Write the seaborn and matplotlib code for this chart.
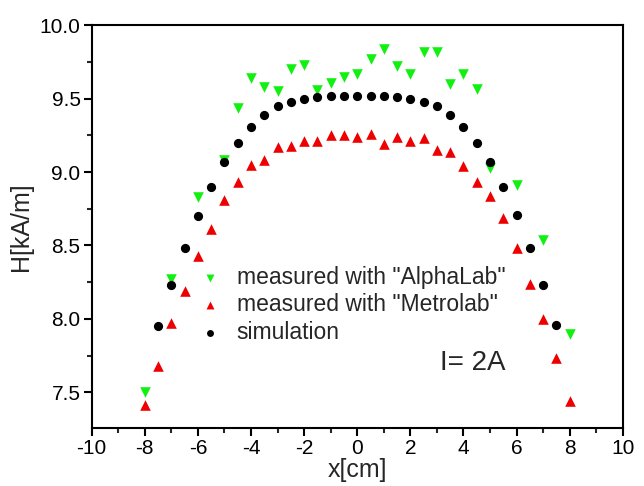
import numpy as np
import pandas as pd
import matplotlib
matplotlib.use("Agg")
import matplotlib.pyplot as plt
import seaborn as sns
from matplotlib.ticker import MultipleLocator

sns.set_theme(style="ticks")
plt.rcParams['font.family'] = ['Liberation Sans', 'DejaVu Sans']

# ---- data ----
sim_x = [-7.5, -7.0, -6.5, -6.0, -5.5, -5.0, -4.5, -4.0, -3.5, -3.0, -2.5, -2.0, -1.5, -1.0, -0.5,
         0.0, 0.5, 1.0, 1.5, 2.0, 2.5, 3.0, 3.5, 4.0, 4.5, 5.0, 5.5, 6.0, 6.5, 7.0, 7.5]
sim_y = [7.95, 8.23, 8.48, 8.70, 8.90, 9.07, 9.20, 9.31, 9.39, 9.45, 9.48, 9.50, 9.51, 9.52, 9.52,
         9.52, 9.52, 9.52, 9.51, 9.50, 9.48, 9.45, 9.39, 9.31, 9.20, 9.07, 8.90, 8.71, 8.48, 8.23, 7.96]

metro_x = [-8.0, -7.5, -7.0, -6.5, -6.0, -5.5, -5.0, -4.5, -4.0, -3.5, -3.0, -2.5, -2.0, -1.5, -1.0, -0.5,
           0.0, 0.5, 1.0, 1.5, 2.0, 2.5, 3.0, 3.5, 4.0, 4.5, 5.0, 5.5, 6.0, 6.5, 7.0, 7.5, 8.0]
metro_y = [7.41, 7.68, 7.97, 8.19, 8.43, 8.61, 8.81, 8.93, 9.05, 9.08, 9.17, 9.18, 9.21, 9.21, 9.25, 9.25,
           9.24, 9.26, 9.19, 9.24, 9.21, 9.23, 9.15, 9.14, 9.04, 8.93, 8.84, 8.69, 8.48, 8.24, 8.00, 7.73, 7.44]

alpha_x = [-8.0, -7.0, -6.0, -5.0, -4.5, -4.0, -3.5, -3.0, -2.5, -2.0, -1.5, -1.0, -0.5, 0.0,
           0.5, 1.0, 1.5, 2.0, 2.5, 3.0, 3.5, 4.0, 4.5, 5.0, 6.0, 7.0, 8.0]
alpha_y = [7.50, 8.27, 8.83, 9.08, 9.44, 9.64, 9.58, 9.55, 9.70, 9.73, 9.56, 9.61, 9.65, 9.67,
           9.77, 9.84, 9.72, 9.67, 9.82, 9.82, 9.60, 9.67, 9.57, 9.03, 8.91, 8.54, 7.90]

labels = ['measured with "AlphaLab"', 'measured with "Metrolab"', 'simulation']
x_ticks = [-10, -8, -6, -4, -2, 0, 2, 4, 6, 8, 10]
y_ticks = [7.5, 8.0, 8.5, 9.0, 9.5, 10.0]

fig = plt.figure(figsize=(6.44, 4.86), dpi=100)
ax = fig.add_axes([0.1424, 0.1193, 0.8246, 0.8284])

sns.scatterplot(x=alpha_x, y=alpha_y, marker='v', s=58, color='#11f011', linewidth=0,
                label=labels[0], ax=ax, zorder=2)
sns.scatterplot(x=metro_x, y=metro_y, marker='^', s=58, color='#ee0000', linewidth=0,
                label=labels[1], ax=ax, zorder=3)
sns.scatterplot(x=sim_x, y=sim_y, marker='o', s=44, color='black', linewidth=0,
                label=labels[2], ax=ax, zorder=4)

ax.set_xlim(-10, 10)
ax.set_ylim(7.256, 10.0)
ax.set_xticks(x_ticks)
ax.set_xticklabels([str(t) for t in x_ticks])
ax.set_yticks(y_ticks)
ax.set_yticklabels([f"{t:.1f}" for t in y_ticks])
ax.xaxis.set_minor_locator(MultipleLocator(1))
ax.yaxis.set_minor_locator(MultipleLocator(0.25))

for sp in ax.spines.values():
    sp.set_linewidth(1.5)
    sp.set_color('black')
ax.tick_params(which='major', direction='out', length=6, width=1.5, labelsize=15,
               colors='black', top=False, right=False, pad=2)
ax.tick_params(which='minor', direction='out', length=3.5, width=1.5, top=False, right=False)

ax.set_xlabel('x[cm]', fontsize=18, labelpad=0)
ax.set_ylabel('H[kA/m]', fontsize=18, labelpad=5)

leg = ax.legend(loc='upper left', bbox_to_anchor=(0.202, 0.403), frameon=False, fontsize=16.5,
                handlelength=1.0, handletextpad=0.65, labelspacing=0.2, borderpad=0,
                borderaxespad=0, markerscale=0.75)

ax.text(3.1, 7.65, 'I= 2A', fontsize=20, ha='left', va='baseline')

fig.savefig('out.png', dpi=100)
